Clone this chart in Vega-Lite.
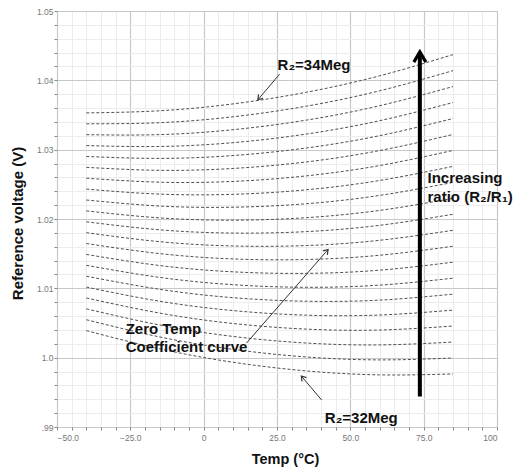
{
  "$schema": "https://vega.github.io/schema/vega-lite/v6.json",
  "width": 440,
  "height": 416,
  "autosize": {"type": "none"},
  "padding": {"left": 57, "top": 11, "right": 26, "bottom": 44},
  "background": "white",
  "config": {
    "view": {"stroke": "#a0a0a0", "strokeWidth": 1},
    "font": "Liberation Sans"
  },
  "datasets": {
    "curves": [
      {"r":0,"t":-40,"v":1.0039},{"r":0,"t":-15,"v":1.00128},{"r":0,"t":10,"v":0.99934},{"r":0,"t":35,"v":0.99809},{"r":0,"t":60,"v":0.99752},{"r":0,"t":85,"v":0.99765},
      {"r":1,"t":-40,"v":1.00547},{"r":1,"t":-15,"v":1.00299},{"r":1,"t":10,"v":1.0012},{"r":1,"t":35,"v":1.0001},{"r":1,"t":60,"v":0.99968},{"r":1,"t":85,"v":0.99995},
      {"r":2,"t":-40,"v":1.00704},{"r":2,"t":-15,"v":1.00471},{"r":2,"t":10,"v":1.00306},{"r":2,"t":35,"v":1.00211},{"r":2,"t":60,"v":1.00184},{"r":2,"t":85,"v":1.00225},
      {"r":3,"t":-40,"v":1.00861},{"r":3,"t":-15,"v":1.00643},{"r":3,"t":10,"v":1.00493},{"r":3,"t":35,"v":1.00412},{"r":3,"t":60,"v":1.00399},{"r":3,"t":85,"v":1.00456},
      {"r":4,"t":-40,"v":1.01018},{"r":4,"t":-15,"v":1.00814},{"r":4,"t":10,"v":1.00679},{"r":4,"t":35,"v":1.00613},{"r":4,"t":60,"v":1.00615},{"r":4,"t":85,"v":1.00686},
      {"r":5,"t":-40,"v":1.01175},{"r":5,"t":-15,"v":1.00986},{"r":5,"t":10,"v":1.00865},{"r":5,"t":35,"v":1.00814},{"r":5,"t":60,"v":1.0083},{"r":5,"t":85,"v":1.00916},
      {"r":6,"t":-40,"v":1.01332},{"r":6,"t":-15,"v":1.01158},{"r":6,"t":10,"v":1.01052},{"r":6,"t":35,"v":1.01015},{"r":6,"t":60,"v":1.01046},{"r":6,"t":85,"v":1.01146},
      {"r":7,"t":-40,"v":1.01489},{"r":7,"t":-15,"v":1.01329},{"r":7,"t":10,"v":1.01238},{"r":7,"t":35,"v":1.01216},{"r":7,"t":60,"v":1.01262},{"r":7,"t":85,"v":1.01377},
      {"r":8,"t":-40,"v":1.01646},{"r":8,"t":-15,"v":1.01501},{"r":8,"t":10,"v":1.01424},{"r":8,"t":35,"v":1.01416},{"r":8,"t":60,"v":1.01477},{"r":8,"t":85,"v":1.01607},
      {"r":9,"t":-40,"v":1.01803},{"r":9,"t":-15,"v":1.01673},{"r":9,"t":10,"v":1.01611},{"r":9,"t":35,"v":1.01617},{"r":9,"t":60,"v":1.01693},{"r":9,"t":85,"v":1.01837},
      {"r":10,"t":-40,"v":1.0196},{"r":10,"t":-15,"v":1.01844},{"r":10,"t":10,"v":1.01797},{"r":10,"t":35,"v":1.01818},{"r":10,"t":60,"v":1.01909},{"r":10,"t":85,"v":1.02068},
      {"r":11,"t":-40,"v":1.02117},{"r":11,"t":-15,"v":1.02016},{"r":11,"t":10,"v":1.01983},{"r":11,"t":35,"v":1.02019},{"r":11,"t":60,"v":1.02124},{"r":11,"t":85,"v":1.02298},
      {"r":12,"t":-40,"v":1.02274},{"r":12,"t":-15,"v":1.02187},{"r":12,"t":10,"v":1.0217},{"r":12,"t":35,"v":1.0222},{"r":12,"t":60,"v":1.0234},{"r":12,"t":85,"v":1.02528},
      {"r":13,"t":-40,"v":1.02431},{"r":13,"t":-15,"v":1.02359},{"r":13,"t":10,"v":1.02356},{"r":13,"t":35,"v":1.02421},{"r":13,"t":60,"v":1.02556},{"r":13,"t":85,"v":1.02759},
      {"r":14,"t":-40,"v":1.02588},{"r":14,"t":-15,"v":1.02531},{"r":14,"t":10,"v":1.02542},{"r":14,"t":35,"v":1.02622},{"r":14,"t":60,"v":1.02771},{"r":14,"t":85,"v":1.02989},
      {"r":15,"t":-40,"v":1.02745},{"r":15,"t":-15,"v":1.02702},{"r":15,"t":10,"v":1.02729},{"r":15,"t":35,"v":1.02823},{"r":15,"t":60,"v":1.02987},{"r":15,"t":85,"v":1.03219},
      {"r":16,"t":-40,"v":1.02902},{"r":16,"t":-15,"v":1.02874},{"r":16,"t":10,"v":1.02915},{"r":16,"t":35,"v":1.03024},{"r":16,"t":60,"v":1.03202},{"r":16,"t":85,"v":1.03449},
      {"r":17,"t":-40,"v":1.03059},{"r":17,"t":-15,"v":1.03046},{"r":17,"t":10,"v":1.03101},{"r":17,"t":35,"v":1.03225},{"r":17,"t":60,"v":1.03418},{"r":17,"t":85,"v":1.0368},
      {"r":18,"t":-40,"v":1.03216},{"r":18,"t":-15,"v":1.03217},{"r":18,"t":10,"v":1.03288},{"r":18,"t":35,"v":1.03426},{"r":18,"t":60,"v":1.03634},{"r":18,"t":85,"v":1.0391},
      {"r":19,"t":-40,"v":1.03373},{"r":19,"t":-15,"v":1.03389},{"r":19,"t":10,"v":1.03474},{"r":19,"t":35,"v":1.03627},{"r":19,"t":60,"v":1.03849},{"r":19,"t":85,"v":1.0414},
      {"r":20,"t":-40,"v":1.0353},{"r":20,"t":-15,"v":1.03561},{"r":20,"t":10,"v":1.0366},{"r":20,"t":35,"v":1.03828},{"r":20,"t":60,"v":1.04065},{"r":20,"t":85,"v":1.04371}
    ],
    "arrows": [
      {"t":25.9,"v":1.0409,"t2":18.5,"v2":1.0372},
      {"t":14.6,"v":1.0021,"t2":42.4,"v2":1.0156},
      {"t":40.2,"v":0.9939,"t2":33.3,"v2":0.99735}
    ],
    "labels": [
      {"t":25.2,"v":1.0422,"text":"R₂=34Meg"},
      {"t":-26.6,"v":1.0041,"text":"Zero Temp"},
      {"t":-26.6,"v":1.0015,"text":"Coefficient curve"},
      {"t":76.3,"v":1.0259,"text":"Increasing"},
      {"t":76.3,"v":1.0232,"text":"ratio (R₂/R₁)"},
      {"t":41.3,"v":0.99125,"text":"R₂=32Meg"}
    ]
  },
  "layer": [
    {
      "data": {"name": "curves"},
      "mark": {"type": "line", "interpolate": "natural", "strokeDash": [3, 2], "color": "#505050", "strokeWidth": 1},
      "encoding": {
        "x": {
          "field": "t", "type": "quantitative", "title": "Temp (°C)",
          "scale": {"domain": [-50, 100], "nice": false, "zero": false},
          "axis": {
            "values": [-50,-45,-40,-35,-30,-25,-20,-15,-10,-5,0,5,10,15,20,25,30,35,40,45,50,55,60,65,70,75,80,85,90,95,100],
            "tickCount": 200,
            "labelExpr": "datum.value % 25 == 0 ? (datum.value == 0 ? '0' : (datum.value == 100 ? '100' : format(datum.value, '.1f'))) : ''",
            "labelOverlap": false,
            "labelFontSize": 8.5, "labelColor": "#777777", "labelPadding": 3,
            "domain": false,
            "ticks": true, "tickSize": 3, "tickColor": "#888888",
            "grid": true,
            "gridColor": {"condition": {"test": "datum.value % 25 == 0", "value": "#c8c8c8"}, "value": "#ececec"},
            "gridWidth": {"condition": {"test": "datum.value % 25 == 0", "value": 1.2}, "value": 1},
            "titleFontSize": 14.5, "titleFontWeight": "bold", "titleColor": "#111111",
            "titleX": 228, "titleY": 32, "titleAlign": "center", "titleBaseline": "middle"
          }
        },
        "y": {
          "field": "v", "type": "quantitative", "title": "Reference voltage (V)",
          "scale": {"domain": [0.99, 1.05], "nice": false, "zero": false},
          "axis": {
            "values": [0.99,0.992,0.994,0.996,0.998,1.0,1.002,1.004,1.006,1.008,1.01,1.012,1.014,1.016,1.018,1.02,1.022,1.024,1.026,1.028,1.03,1.032,1.034,1.036,1.038,1.04,1.042,1.044,1.046,1.048,1.05],
            "tickCount": 200,
            "labelExpr": "abs(datum.value*100 - round(datum.value*100)) < 0.001 ? (abs(datum.value - 1) < 0.0001 ? '1.0' : (datum.value < 0.995 ? '.99' : format(datum.value, '.2f'))) : ''",
            "labelOverlap": false,
            "labelFontSize": 8.5, "labelColor": "#777777", "labelPadding": 1,
            "domain": false,
            "ticks": true, "tickSize": 3, "tickColor": "#888888",
            "grid": true,
            "gridColor": {"condition": {"test": "abs(datum.value*100 - round(datum.value*100)) < 0.001", "value": "#c8c8c8"}, "value": "#ececec"},
            "gridWidth": {"condition": {"test": "abs(datum.value*100 - round(datum.value*100)) < 0.001", "value": 1.2}, "value": 1},
            "titleFontSize": 15, "titleFontWeight": "bold", "titleColor": "#111111",
            "titleX": -40, "titleY": 212, "titleAngle": -90, "titleAlign": "center", "titleBaseline": "middle"
          }
        },
        "detail": {"field": "r", "type": "nominal"}
      }
    },
    {
      "data": {"name": "arrows"},
      "mark": {"type": "rule", "color": "#333333", "strokeWidth": 1},
      "encoding": {
        "x": {"field": "t", "type": "quantitative", "title": "Temp (°C)"},
        "y": {"field": "v", "type": "quantitative", "title": "Reference voltage (V)"},
        "x2": {"field": "t2"},
        "y2": {"field": "v2"}
      }
    },
    {
      "data": {"values": [{"t": 18.5, "v": 1.0372}]},
      "mark": {"type": "point", "shape": "M -1 1.5 L 0 0 L 1 1.5", "filled": false, "color": "#333333", "strokeWidth": 1.2, "size": 36, "angle": 220, "opacity": 1},
      "encoding": {
        "x": {"field": "t", "type": "quantitative", "title": "Temp (°C)"},
        "y": {"field": "v", "type": "quantitative", "title": "Reference voltage (V)"}
      }
    },
    {
      "data": {"values": [{"t": 42.4, "v": 1.0156}]},
      "mark": {"type": "point", "shape": "M -1 1.5 L 0 0 L 1 1.5", "filled": false, "color": "#333333", "strokeWidth": 1.2, "size": 36, "angle": 41, "opacity": 1},
      "encoding": {
        "x": {"field": "t", "type": "quantitative", "title": "Temp (°C)"},
        "y": {"field": "v", "type": "quantitative", "title": "Reference voltage (V)"}
      }
    },
    {
      "data": {"values": [{"t": 33.3, "v": 0.99735}]},
      "mark": {"type": "point", "shape": "M -1 1.5 L 0 0 L 1 1.5", "filled": false, "color": "#333333", "strokeWidth": 1.2, "size": 36, "angle": 320, "opacity": 1},
      "encoding": {
        "x": {"field": "t", "type": "quantitative", "title": "Temp (°C)"},
        "y": {"field": "v", "type": "quantitative", "title": "Reference voltage (V)"}
      }
    },
    {
      "data": {"values": [{"t": 73.7, "v": 0.9944, "v2": 1.0439}]},
      "mark": {"type": "rule", "color": "#000000", "strokeWidth": 4},
      "encoding": {
        "x": {"field": "t", "type": "quantitative", "title": "Temp (°C)"},
        "y": {"field": "v", "type": "quantitative", "title": "Reference voltage (V)"},
        "y2": {"field": "v2"}
      }
    },
    {
      "data": {"values": [{"t": 73.7, "v": 1.0441}]},
      "mark": {"type": "point", "shape": "M -1 1.7 L 0 0 L 1 1.7", "filled": false, "color": "#000000", "strokeWidth": 3.2, "size": 144, "strokeJoin": "miter", "opacity": 1},
      "encoding": {
        "x": {"field": "t", "type": "quantitative", "title": "Temp (°C)"},
        "y": {"field": "v", "type": "quantitative", "title": "Reference voltage (V)"}
      }
    },
    {
      "data": {"name": "labels"},
      "mark": {"type": "text", "align": "left", "baseline": "middle", "fontSize": 15, "fontWeight": "bold", "font": "Liberation Sans", "color": "#111111"},
      "encoding": {
        "x": {"field": "t", "type": "quantitative", "title": "Temp (°C)"},
        "y": {"field": "v", "type": "quantitative", "title": "Reference voltage (V)"},
        "text": {"field": "text"}
      }
    }
  ]
}
